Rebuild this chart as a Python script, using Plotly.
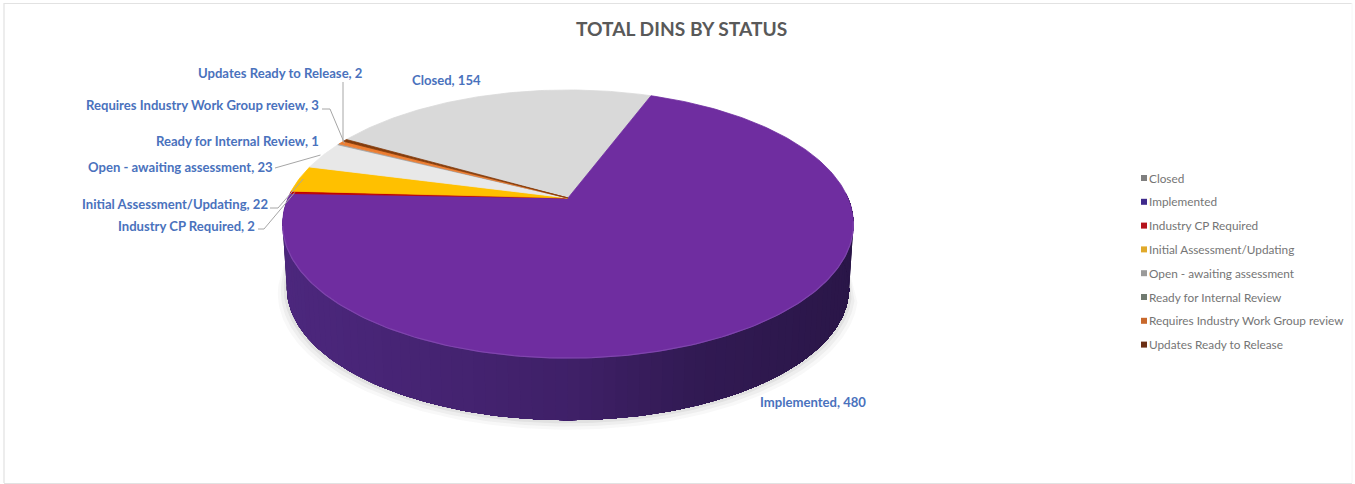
import math
import plotly.graph_objects as go

TITLE = "TOTAL DINS BY STATUS"
categories = ["Closed", "Implemented", "Industry CP Required", "Initial Assessment/Updating",
              "Open - awaiting assessment", "Ready for Internal Review",
              "Requires Industry Work Group review", "Updates Ready to Release"]
values = [154, 480, 2, 22, 23, 1, 3, 2]
colors = ["#d9d9d9", "#6f2da0", "#c00000", "#ffc000", "#e8e8e8", "#a5a5a5", "#ed7d31", "#843c0c"]
legend_colors = ["#7f7f7f", "#3f2a8c", "#b5121b", "#e0a92a", "#9a9a9a", "#707a70", "#c8682c", "#6b2f14"]

# Projection of the tilted disc on to the page (pixels)
CX, CY, A, B, K = 568, 198, 280, 129, -0.194
WALL_DY, WALL_S = 64.5, 0.985
START = -60.2


def rim(theta, r=1.0, dy=0.0, s=1.0):
    t = math.radians(theta)
    u, w = r * math.sin(t), -r * math.cos(t)
    d = 1 + K * w
    return CX + s * A * u / d, CY + dy + s * B * w / d


def arc(a0, a1, **kw):
    n = max(2, int(abs(a1 - a0) / 1.0) + 1)
    pts = [rim(a0 + (a1 - a0) * i / (n - 1), **kw) for i in range(n)]
    return [p[0] for p in pts], [p[1] for p in pts]


def mix(c):
    return "#" + "".join(f"{round(v):02x}" for v in c)


total = sum(values)
edges = [START]
for v in values:
    edges.append(edges[-1] + v / total * 360)

fig = go.Figure()

# soft shadow under the pie
for grow, op in [(9, 0.035), (6, 0.05), (3, 0.07)]:
    xs, ys = arc(105, 262, dy=WALL_DY + grow * 0.5, s=WALL_S + grow / 285)
    xt, yt = arc(262, 105, dy=WALL_DY - 30, s=WALL_S)
    fig.add_trace(go.Scatter(x=xs + xt, y=ys + yt, mode="lines", fill="toself",
                             fillcolor=f"rgba(60,60,60,{op})", line=dict(width=0),
                             hoverinfo="skip", showlegend=False))

# side wall, shaded from left to right; each strip overlaps its neighbour so no seams show
WALL_STOPS = [(283, (0x4c, 0x27, 0x7d)), (570, (0x3f, 0x20, 0x68)), (690, (0x32, 0x1a, 0x54)), (853, (0x2a, 0x16, 0x48))]
th = edges[2]
while th > 88:
    nxt = max(th - 2.0, 88)
    xa, ya = arc(th, 88)
    xb, yb = arc(88, th, dy=WALL_DY, s=WALL_S)
    xm = rim((th + nxt) / 2)[0]
    col = WALL_STOPS[-1][1]
    for (x0, c0), (x1, c1) in zip(WALL_STOPS, WALL_STOPS[1:]):
        if x0 <= xm <= x1:
            col = tuple(c0[i] + (c1[i] - c0[i]) * (xm - x0) / (x1 - x0) for i in range(3))
    fig.add_trace(go.Scatter(x=xa + xb, y=ya + yb, mode="lines", fill="toself", fillcolor=mix(col),
                             line=dict(width=0), hoverinfo="skip", showlegend=False))
    th = nxt

# top face slices
for i, (cat, col) in enumerate(zip(categories, colors)):
    xs, ys = arc(edges[i], edges[i + 1])
    fig.add_trace(go.Scatter(x=[CX] + xs + [CX], y=[CY] + ys + [CY], mode="lines", fill="toself",
                             fillcolor=col, line=dict(width=0.8, color=col), name=cat,
                             hoverinfo="name", showlegend=False))

# rim highlight on the front edge
xs, ys = arc(100, 258)
fig.add_trace(go.Scatter(x=xs, y=ys, mode="lines", line=dict(width=1.2, color="#7f45ad"),
                         hoverinfo="skip", showlegend=False))

# data labels: (category index, right edge x, centre y, leader elbow points)
LABEL_COLOR = "#4a72bd"
label_layout = [
    (0, 483, 80, None),
    (1, 868, 402, None),
    (2, 257, 226, [(258, 229), (264, 229)]),
    (3, 270, 204, [(270, 208), (278, 208)]),
    (4, 275, 167, [(275, 168)]),
    (5, 321, 141, None),
    (6, 321, 105, [(322, 109), (330, 109)]),
    (7, 364, 73, [(343, 82)]),
]
for idx, xr, yc, leader in label_layout:
    fig.add_annotation(x=xr, y=yc, xref="x", yref="y", xanchor="right", yanchor="middle",
                       text=f"<b>{categories[idx]}, {values[idx]}</b>", showarrow=False,
                       font=dict(family="Lato", size=13.1, color=LABEL_COLOR))
    if leader:
        mid = (edges[idx] + edges[idx + 1]) / 2
        ex, ey = rim(mid, r=0.985)
        if idx == 4:
            ex, ey = rim(mid, r=1.01)
        lx = [p[0] for p in leader] + [ex]
        ly = [p[1] for p in leader] + [ey]
        if idx == 7:
            lx[-1] = lx[0]
        fig.add_trace(go.Scatter(x=lx, y=ly, mode="lines", line=dict(width=1, color="#a6a6a6"),
                                 hoverinfo="skip", showlegend=False))

# legend column
LEG_X, LEG_Y0, LEG_DY = 1144, 178, 23.8
leg_y = [LEG_Y0 + LEG_DY * i for i in range(len(categories))]
fig.add_trace(go.Scatter(x=[LEG_X] * len(categories), y=leg_y, mode="markers",
                         marker=dict(symbol="square", size=6, color=legend_colors),
                         hoverinfo="skip", showlegend=False))
for cat, y in zip(categories, leg_y):
    fig.add_annotation(x=LEG_X + 3, y=y, xref="x", yref="y", xanchor="left", yanchor="middle",
                       text=cat, showarrow=False, font=dict(family="Lato", size=11.8, color="#757575"))

fig.update_layout(
    width=1355, height=484, autosize=False,
    margin=dict(l=0, r=0, t=0, b=0),
    paper_bgcolor="white", plot_bgcolor="white", showlegend=False,
    xaxis=dict(range=[0, 1355], visible=False, fixedrange=True),
    yaxis=dict(range=[484, 0], visible=False, fixedrange=True),
    annotations=list(fig.layout.annotations) + [
        dict(x=681.5, y=28, xref="x", yref="y", text=f"<b>{TITLE}</b>", showarrow=False,
             xanchor="center", yanchor="middle", font=dict(family="Lato", size=19.2, color="#595959"))],
    shapes=[
        dict(type="path", path="M4,483 L4,3.5 L1352,3.5", line=dict(color="#e2e2e2", width=1.2), xref="x", yref="y"),
        dict(type="path", path="M4,483.5 L1352,483.5", line=dict(color="#e2e2e2", width=1.2), xref="x", yref="y"),
        dict(type="line", x0=1352, x1=1352, y0=3, y1=483, line=dict(color="#f6f6f6", width=1), xref="x", yref="y"),
    ],
)
fig.write_html("out.html", config={"displayModeBar": False},
               post_script="document.body.style.margin='0';")
